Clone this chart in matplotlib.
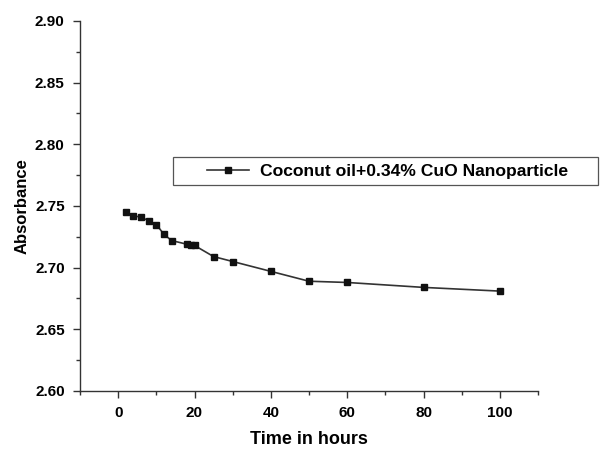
import matplotlib.pyplot as plt
from matplotlib.patches import Rectangle
from matplotlib.ticker import MultipleLocator

time_h = [2, 4, 6, 8, 10, 12, 14, 18, 19, 20, 25, 30, 40, 50, 60, 80, 100]
absorbance = [2.745, 2.742, 2.741, 2.738, 2.735, 2.727, 2.722, 2.719, 2.718,
              2.718, 2.709, 2.705, 2.697, 2.689, 2.688, 2.684, 2.681]
series_label = "Coconut oil+0.34% CuO Nanoparticle"

plt.rcParams["font.family"] = ["Liberation Sans", "DejaVu Sans"]
plt.rcParams["font.weight"] = "bold"

W, H = 610, 451
fig = plt.figure(figsize=(W / 100, H / 100), dpi=100)
ax = fig.add_axes([80 / W, 1 - 391 / H, 458 / W, 370 / H])

ax.plot(time_h, absorbance, color="#333333", linewidth=1.2, marker="s",
        markersize=4.5, markerfacecolor="#111111", markeredgecolor="#111111",
        label=series_label)

ax.set_xlim(-10, 110)
ax.set_ylim(2.60, 2.90)
ax.xaxis.set_major_locator(MultipleLocator(20))
ax.xaxis.set_minor_locator(MultipleLocator(10))
ax.yaxis.set_major_locator(MultipleLocator(0.05))
ax.yaxis.set_minor_locator(MultipleLocator(0.025))
ax.yaxis.set_major_formatter(plt.FormatStrFormatter("%.2f"))

ax.spines["top"].set_visible(False)
ax.spines["right"].set_visible(False)
for s in ("left", "bottom"):
    ax.spines[s].set_color("#333333")
    ax.spines[s].set_linewidth(1.0)
ax.tick_params(which="major", direction="out", length=5, width=1,
               color="#333333", labelsize=11, pad=6)
ax.tick_params(which="minor", direction="out", length=3, width=1,
               color="#333333")
for lbl in ax.get_xticklabels() + ax.get_yticklabels():
    lbl.set_fontweight("bold")

ax.set_xlabel("Time in hours", fontsize=13, fontweight="bold", labelpad=8)
ax.set_ylabel("Absorbance", fontsize=12, fontweight="bold")
ax.yaxis.set_label_coords(-0.11, 0.5)

# legend frame drawn separately, Origin-style wide box
fig.patches.append(Rectangle((173 / W, 1 - 185 / H), 425 / W, 28 / H,
                             transform=fig.transFigure, fill=False,
                             edgecolor="#555555", linewidth=0.9))
leg = ax.legend(loc="center left", bbox_to_anchor=(207 / W, 1 - 171 / H),
                bbox_transform=fig.transFigure, frameon=False,
                handlelength=2.4, handletextpad=0.6, borderpad=0,
                borderaxespad=0, prop={"weight": "bold", "size": 12.6})

fig.savefig("out.png", dpi=100)
